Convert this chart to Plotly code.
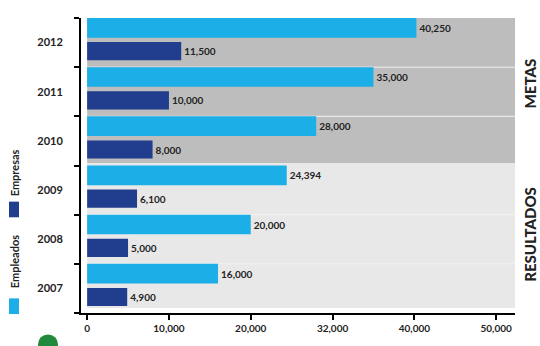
import plotly.graph_objects as go

years = [2007, 2008, 2009, 2010, 2011, 2012]
empleados = [16000, 20000, 24394, 28000, 35000, 40250]
empresas = [4900, 5000, 6100, 8000, 10000, 11500]
x_tickvals = [0, 10000, 20000, 30000, 40000, 50000]
x_ticktext = ["0", "10,000", "20,000", "32,000", "40,000", "50,000"]

LIGHT = "#1caee6"
DARK = "#213d8e"
FONT = "Lato"
L, T, W, H = 81, 18, 434, 302


def px(xp, yp):
    return (xp - L) / W, 1 - (yp - T) / H


fig = go.Figure()
fig.add_trace(go.Bar(
    y=years, x=empresas, orientation="h", name="Empresas",
    marker=dict(color=DARK, line=dict(width=0)),
    offset=-0.36, width=0.37,
    texttemplate="%{x:,d}", textposition="outside",
    textfont=dict(family=FONT, size=10, color="#222222", weight="bold"),
    cliponaxis=False,
))
fig.add_trace(go.Bar(
    y=years, x=empleados, orientation="h", name="Empleados",
    marker=dict(color=LIGHT, line=dict(width=0)),
    offset=0.1, width=0.4,
    texttemplate="%{x:,d}", textposition="outside",
    textfont=dict(family=FONT, size=10, color="#222222", weight="bold"),
    cliponaxis=False,
))

# background bands
fig.add_shape(type="rect", xref="x", yref="y", x0=0, x1=52600, y0=2009.55, y1=2012.55,
              fillcolor="#bdbdbd", line=dict(width=0), layer="below")
fig.add_shape(type="rect", xref="x", yref="y", x0=0, x1=52600, y0=2006.6, y1=2009.55,
              fillcolor="#e8e8e8", line=dict(width=0), layer="below")
for b in [2007.5, 2008.5, 2010.5, 2011.5]:
    fig.add_shape(type="line", xref="x", yref="y", x0=0, x1=52600, y0=b, y1=b,
                  line=dict(color="#f2f2f2", width=1), layer="below")

fig.update_layout(
    width=540, height=346,
    margin=dict(l=L, r=540 - L - W, t=T, b=346 - T - H),
    paper_bgcolor="white", plot_bgcolor="white",
    showlegend=False,
    barmode="overlay",
    font=dict(family=FONT, color="#222222"),
    xaxis=dict(
        range=[-750, 52300], tickvals=x_tickvals, ticktext=x_ticktext,
        showgrid=False, zeroline=False,
        showline=True, linecolor="black", linewidth=2,
        ticks="outside", ticklen=5, tickcolor="black", tickwidth=1.5,
        tickfont=dict(family=FONT, size=10, color="#222222", weight="bold"),
    ),
    yaxis=dict(
        range=[2006.5, 2012.5], tickvals=years, ticktext=[str(y) for y in years],
        showgrid=False, zeroline=False,
        showline=True, linecolor="black", linewidth=2,
        ticks="", ticklabelstandoff=14,
        tickfont=dict(family=FONT, size=11, color="#222222", weight="bold"),
        minor=dict(tick0=2006.5, dtick=1, ticks="outside", ticklen=5,
                   tickcolor="black", tickwidth=1.5, showgrid=False),
    ),
)


def label(text, xp, yp, size, weight="bold"):
    x, y = px(xp, yp)
    fig.add_annotation(x=x, y=y, xref="paper", yref="paper", text=text,
                       textangle=-90, showarrow=False, xanchor="center", yanchor="middle",
                       font=dict(family=FONT, size=size, color="#222222", weight=weight))


label("METAS", 530, 85, 15, 900)
label("RESULTADOS", 530, 240, 15, 900)
label("Empresas", 14, 177, 11)
label("Empleados", 14, 268, 11)


def px_rect(x0, y0, x1, y1, color, kind="rect"):
    a0, b1 = px(x0, y0)
    a1, b0 = px(x1, y1)
    fig.add_shape(type=kind, xref="paper", yref="paper",
                  x0=a0, x1=a1, y0=b0, y1=b1,
                  fillcolor=color, line=dict(width=0))


px_rect(9, 206, 19, 222, DARK)
px_rect(9, 305, 19, 321, LIGHT)
px_rect(38, 342, 58, 362, "#1f8a3c", "circle")

fig.write_html("out.html")
